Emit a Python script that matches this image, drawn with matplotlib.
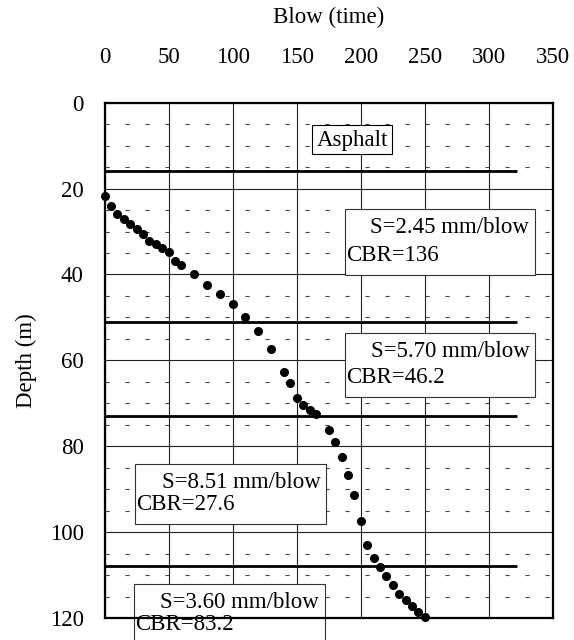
import matplotlib
matplotlib.use("Agg")
import matplotlib.pyplot as plt
from matplotlib.patches import Rectangle

plt.rcParams['font.family'] = ['Liberation Serif', 'DejaVu Serif']
plt.rcParams['font.size'] = 16.5
plt.rcParams['lines.scale_dashes'] = False

# --- Data ---
blows = [0, 5, 10, 15, 20, 25, 30, 35, 40, 45, 50, 55, 60, 70, 80, 90, 100,
         110, 120, 130, 140, 145, 150, 155, 160, 165, 175, 180, 185, 190, 195,
         200, 205, 210, 215, 220, 225, 230, 235, 240, 245, 250]
depth = [21.7, 24.0, 25.8, 27.0, 28.3, 29.4, 30.6, 32.1, 33.0, 33.8, 34.8,
         36.8, 37.8, 39.9, 42.4, 44.5, 46.9, 49.8, 53.1, 57.3, 62.8, 65.3,
         68.7, 70.3, 71.5, 72.5, 76.2, 79.1, 82.5, 86.6, 91.4, 97.4, 103.0,
         106.0, 108.1, 110.3, 112.4, 114.3, 115.9, 117.1, 118.5, 119.7]

layer_bounds = [16, 51, 73, 108]
layer_end = 322

slope_labels = ["S=2.45 mm/blow", "S=5.70 mm/blow", "S=8.51 mm/blow", "S=3.60 mm/blow"]
cbr_labels = ["CBR=136", "CBR=46.2", "CBR=27.6", "CBR=83.2"]
# box extents: (x0, x1, y_top, y_bottom) in data units
boxes = [(187.7, 336.2, 24.8, 40.1),
         (187.7, 336.2, 53.7, 68.5),
         (23.7, 172.9, 84.2, 98.0),
         (23.1, 172.1, 112.2, 126.0)]

x_ticks = [0, 50, 100, 150, 200, 250, 300, 350]
y_ticks = [0, 20, 40, 60, 80, 100, 120]
minor_y = [v for v in range(5, 120, 5) if v % 20 != 0]

fig = plt.figure(figsize=(5.74, 6.4), dpi=100)
ax = fig.add_axes([0.1824, 0.0344, 0.7805, 0.8051])

ax.set_xlim(0, 350)
ax.set_ylim(120, 0)
ax.xaxis.tick_top()
ax.xaxis.set_label_position('top')
ax.set_xticks(x_ticks)
ax.set_yticks(y_ticks)
ax.tick_params(length=0)
ax.tick_params(axis='x', pad=25)
ax.tick_params(axis='y', pad=15)
ax.set_xlabel("Blow (time)", labelpad=17)
ax.set_ylabel("Depth (m)", labelpad=9)

for s in ax.spines.values():
    s.set_linewidth(1.6)
    s.set_zorder(5)

# major grid
ax.grid(True, color='#222222', lw=0.8)
ax.set_axisbelow(True)

# dashed minor lines
for v in minor_y:
    ax.axhline(v, color='#444444', lw=0.8, dashes=(3, 11.4), zorder=0.5)

# layer boundaries
ax.hlines(layer_bounds, 0, layer_end, colors='black', lw=2.0, zorder=2)

# asphalt label
ax.add_patch(Rectangle((162.2, 5.2), 62.5, 6.8, facecolor='white',
                       edgecolor='black', lw=0.8, zorder=3))
ax.text(193.5, 8.7, "Asphalt", ha='center', va='center', zorder=4)

for (x0, x1, yt, yb), s_lab, c_lab in zip(boxes, slope_labels, cbr_labels):
    ax.add_patch(Rectangle((x0, yt), x1 - x0, yb - yt, facecolor='white',
                           edgecolor='#333333', lw=0.8, zorder=3, clip_on=False))
    ax.text(x1 - 4.5, yt + 4.2, s_lab, ha='right', va='center', zorder=4, clip_on=False)
    ax.text(x0 + 0.8, yb - 4.5, c_lab, ha='left', va='center', zorder=4, clip_on=False)

ax.plot(blows, depth, 'o', color='black', markersize=5.5, zorder=6, clip_on=False)

fig.savefig("out.png", dpi=100)
